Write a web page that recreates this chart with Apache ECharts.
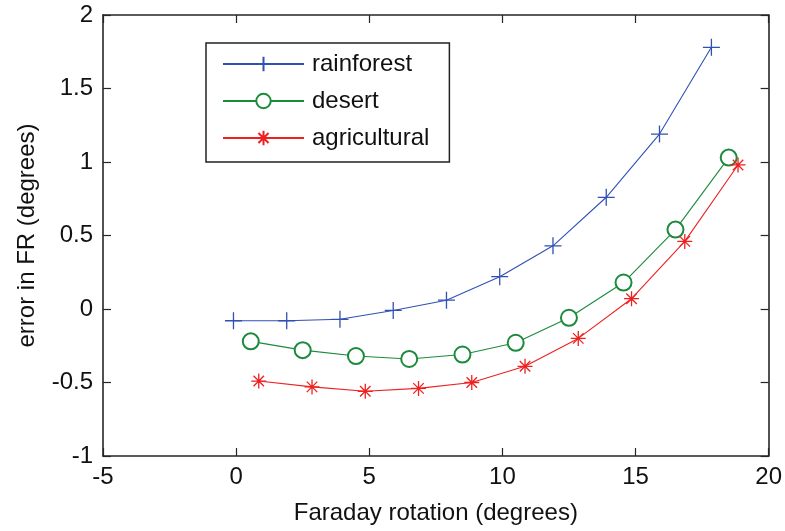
<!DOCTYPE html>
<html>
<head>
<meta charset="utf-8">
<script src="https://cdn.jsdelivr.net/npm/echarts@6/dist/echarts.min.js"></script>
<style>
  html, body { margin: 0; padding: 0; background: #fff; }
  #chart { width: 785px; height: 531px; }
</style>
</head>
<body>
<div id="chart"></div>
<script>
/* Faraday rotation error curves, MATLAB-style boxed axes. */
const rainforestX = [-0.1, 1.9, 3.9, 5.9, 7.9, 9.9, 11.9, 13.9, 15.9, 17.85];
const rainforestY = [-0.08, -0.08, -0.07, -0.01, 0.06, 0.22, 0.43, 0.76, 1.19, 1.78];
const desertX = [0.55, 2.5, 4.5, 6.5, 8.5, 10.5, 12.5, 14.55, 16.5, 18.5];
const desertY = [-0.22, -0.28, -0.32, -0.34, -0.31, -0.23, -0.06, 0.18, 0.54, 1.03];
const agriX = [0.85, 2.85, 4.85, 6.85, 8.85, 10.85, 12.85, 14.85, 16.85, 18.85];
const agriY = [-0.49, -0.53, -0.56, -0.54, -0.5, -0.39, -0.2, 0.07, 0.46, 0.98];

const FONT = "'Liberation Sans', Arial, sans-serif";
const AXIS = "#262626";
const pts = (xs, ys) => xs.map((x, i) => [x, ys[i]]);

const PLUS = "path://M0,-10L0,10M-10,0L10,0";
const STAR = "path://M0,-10L0,10M-10,0L10,0M-7,-7L7,7M-7,7L7,-7";

const lineAxis = (pos, labels, extra) => Object.assign({
  type: "value", position: pos,
  axisLine: { show: true, onZero: false, lineStyle: { color: AXIS, width: 1.6 } },
  axisTick: { show: true, inside: true, length: 8, lineStyle: { color: AXIS, width: 1.2 } },
  axisLabel: { show: labels, color: "#111", fontSize: 24, fontFamily: FONT, hideOverlap: false },
  splitLine: { show: false },
}, extra);

const mk = (name, data, color, symbol, size, bw) => ({
  name, type: "line", data, symbol, symbolSize: size, color,
  lineStyle: { color, width: 1.1 },
  itemStyle: { color, borderColor: color, borderWidth: bw },
  emphasis: { disabled: true }, animation: false,
});

echarts.init(document.getElementById("chart")).setOption({
  backgroundColor: "#fff",
  animation: false,
  grid: { left: 103, right: 12, top: 15, bottom: 75 },
  legend: {
    left: 206, top: 43, orient: "vertical",
    backgroundColor: "#fff", borderColor: "#222", borderWidth: 1.5,
    padding: [9, 20, 12, 16], itemWidth: 81, itemHeight: 18, itemGap: 13,
    textStyle: { fontSize: 24, fontFamily: FONT, color: "#111", padding: [0, 0, 0, 3] },
  },
  xAxis: [
    lineAxis("bottom", true, { min: -5, max: 20, interval: 5,
      axisLabel: { show: true, color: "#111", fontSize: 24, fontFamily: FONT, margin: 9, hideOverlap: false },
      name: "Faraday rotation (degrees)", nameLocation: "middle", nameGap: 45,
      nameTextStyle: { fontSize: 24, fontFamily: FONT, color: "#111" } }),
    lineAxis("top", false, { min: -5, max: 20, interval: 5 }),
  ],
  yAxis: [
    lineAxis("left", true, { min: -1, max: 2, interval: 0.5,
      axisLabel: { show: true, color: "#111", fontSize: 24, fontFamily: FONT, margin: 10, hideOverlap: false },
      name: "error in FR (degrees)", nameLocation: "middle", nameGap: 64, nameRotate: 90,
      nameTextStyle: { fontSize: 24, fontFamily: FONT, color: "#111" } }),
    lineAxis("right", false, { min: -1, max: 2, interval: 0.5 }),
  ],
  series: [
    mk("rainforest", pts(rainforestX, rainforestY), "#3050b4", PLUS, 17, 1.3),
    mk("desert", pts(desertX, desertY), "#1c8a3c", "emptyCircle", 16, 1),
    mk("agricultural", pts(agriX, agriY), "#ee2020", STAR, 15, 1.3),
  ],
});
</script>
</body>
</html>
